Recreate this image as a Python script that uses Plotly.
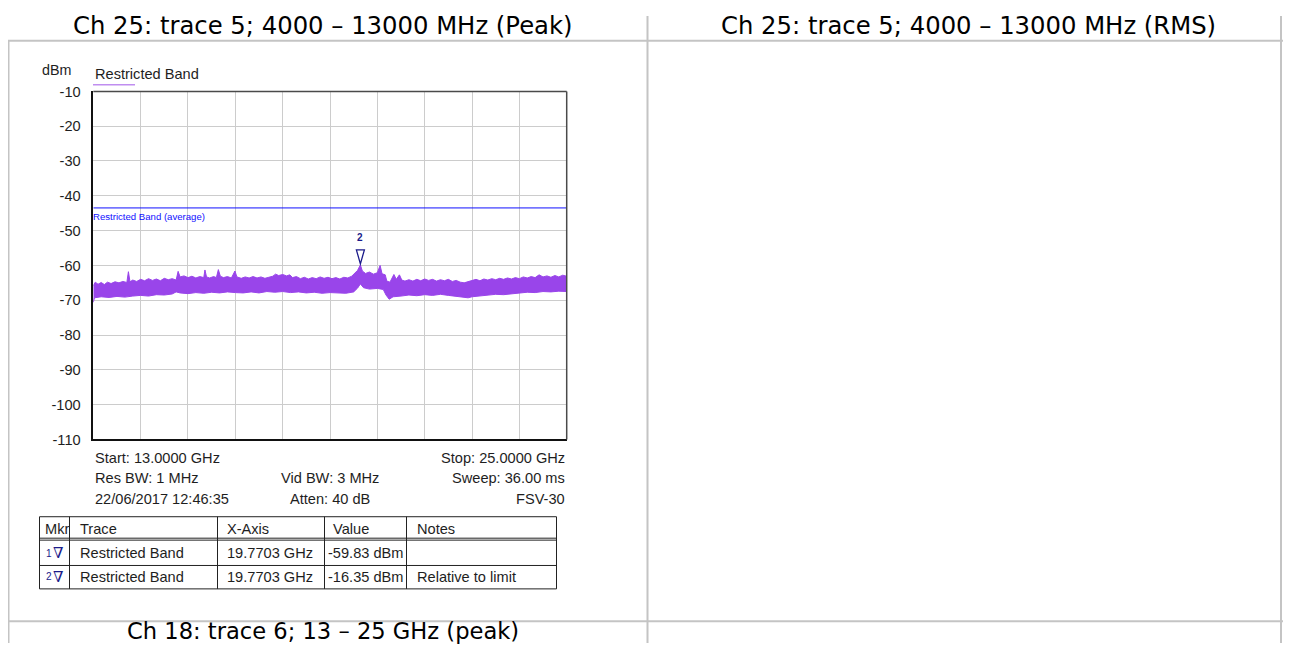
import plotly.graph_objects as go

# ---------------- data ----------------
start_ghz, stop_ghz = 13.0, 25.0
y_ticks = [-10, -20, -30, -40, -50, -60, -70, -80, -90, -100, -110]
limit_dbm = -43.48
limit_label = "Restricted Band (average)"
trace_name = "Restricted Band"

upper_f = [13.00, 13.05, 13.12, 13.2, 13.28, 13.36, 13.45, 13.55, 13.65, 13.75, 13.85, 13.89, 13.93,
           14.0, 14.1, 14.2, 14.3, 14.4, 14.5, 14.6, 14.7, 14.8, 14.9, 15.0, 15.1, 15.15, 15.2, 15.3,
           15.4, 15.5, 15.6, 15.7, 15.8, 15.83, 15.87, 15.95, 16.05, 16.12, 16.17, 16.22, 16.3, 16.4,
           16.5, 16.59, 16.64, 16.75, 16.85, 16.95, 17.05, 17.15, 17.25, 17.35, 17.45, 17.55, 17.62,
           17.7, 17.8, 17.9, 17.98, 18.05, 18.15, 18.25, 18.35, 18.45, 18.55, 18.65, 18.75, 18.85,
           18.95, 19.05, 19.15, 19.25, 19.35, 19.45, 19.55, 19.62, 19.7, 19.7703, 19.82, 19.9, 20.0,
           20.1, 20.2, 20.27, 20.32, 20.4, 20.44, 20.52, 20.58, 20.62, 20.68, 20.76, 20.82, 20.9, 21.0,
           21.1, 21.2, 21.3, 21.4, 21.5, 21.6, 21.7, 21.8, 21.9, 22.0, 22.1, 22.2, 22.3, 22.4, 22.5,
           22.6, 22.7, 22.8, 22.9, 23.0, 23.1, 23.2, 23.3, 23.4, 23.5, 23.6, 23.7, 23.8, 23.9, 24.0,
           24.1, 24.2, 24.3, 24.4, 24.5, 24.6, 24.7, 24.8, 24.9, 25.0]
upper_db = [-65.8, -64.8, -65.4, -64.9, -65.5, -64.8, -65.2, -64.7, -65.0, -64.6, -64.9, -61.8, -64.7,
            -64.2, -64.6, -64.0, -64.4, -63.8, -64.3, -63.9, -64.4, -63.7, -64.1, -63.8, -64.2, -61.7,
            -63.3, -63.0, -63.5, -63.1, -63.6, -63.2, -63.5, -61.3, -63.3, -63.6, -63.2, -63.5, -61.2,
            -63.1, -63.5, -63.2, -63.6, -61.6, -63.3, -63.7, -63.3, -63.6, -63.2, -63.6, -63.3, -63.7,
            -63.4, -63.1, -62.5, -62.9, -62.6, -63.0, -62.7, -63.5, -63.2, -63.8, -63.4, -63.9, -63.5,
            -63.8, -63.3, -63.7, -63.4, -63.8, -63.5, -63.9, -63.4, -63.6, -63.1, -62.4, -61.4, -59.83,
            -61.6, -62.3, -61.9, -62.5, -62.1, -60.0, -62.4, -62.7, -64.5, -64.8, -63.6, -62.6, -64.0,
            -62.7, -64.2, -64.5, -64.1, -64.5, -64.0, -64.4, -63.9, -64.3, -64.0, -64.5, -64.1, -64.4,
            -64.0, -64.6, -64.3, -64.8, -65.0, -64.7, -64.2, -64.0, -64.4, -63.9, -64.2, -63.8, -64.1,
            -63.7, -64.0, -63.6, -63.9, -63.5, -63.8, -63.3, -63.6, -63.2, -63.5, -62.7, -63.3, -63.0,
            -63.4, -62.9, -63.3, -62.8, -63.1]

lower_f = [13.0, 13.03, 13.2, 13.4, 13.6, 13.8, 14.0, 14.2, 14.4, 14.6, 14.8, 15.0, 15.1, 15.2, 15.4,
           15.6, 15.8, 16.0, 16.2, 16.4, 16.6, 16.8, 17.0, 17.2, 17.4, 17.6, 17.8, 18.0, 18.2, 18.4,
           18.6, 18.8, 19.0, 19.2, 19.4, 19.6, 19.7, 19.77, 19.85, 20.0, 20.2, 20.35, 20.42, 20.5,
           20.6, 20.8, 21.0, 21.2, 21.4, 21.6, 21.8, 22.0, 22.2, 22.4, 22.5, 22.6, 22.8, 23.0, 23.2,
           23.4, 23.6, 23.8, 24.0, 24.2, 24.4, 24.6, 24.8, 25.0]
lower_db = [-70.6, -69.3, -69.0, -69.2, -68.9, -69.1, -68.8, -68.6, -68.8, -68.4, -68.5, -68.2, -67.6,
            -67.9, -68.1, -67.8, -68.0, -67.7, -67.9, -67.6, -67.8, -67.9, -67.6, -67.9, -67.5, -67.7,
            -67.5, -67.8, -67.6, -67.9, -67.7, -68.0, -67.8, -67.9, -68.0, -67.6, -66.5, -65.3, -66.4,
            -66.8, -66.6, -66.9, -68.5, -69.7, -69.0, -68.8, -68.5, -68.7, -68.4, -68.6, -68.3, -68.6,
            -68.8, -69.1, -69.3, -69.0, -68.8, -68.5, -68.3, -68.4, -68.1, -67.9, -67.7, -67.8, -67.5,
            -67.6, -67.4, -67.5]

marker_ids = ["1", "2"]
marker_traces = ["Restricted Band", "Restricted Band"]
marker_x = ["19.7703 GHz", "19.7703 GHz"]
marker_vals = ["-59.83 dBm", "-16.35 dBm"]
marker_notes = ["", "Relative to limit"]
marker_freq = 19.7703
marker_dbm = -59.83

info_left = ["Start: 13.0000 GHz", "Res BW: 1 MHz", "22/06/2017 12:46:35"]
info_mid = ["", "Vid BW: 3 MHz", "Atten: 40 dB"]
info_right = ["Stop: 25.0000 GHz", "Sweep: 36.00 ms", "FSV-30"]
table_headers = ["Mkr", "Trace", "X-Axis", "Value", "Notes"]

cell_titles = ["Ch 25: trace 5; 4000 – 13000 MHz (Peak)",
               "Ch 25: trace 5; 4000 – 13000 MHz (RMS)",
               "Ch 18: trace 6; 13 – 25 GHz (peak)"]

# ---------------- layout helpers ----------------
# the figure sits inside the page body (8 px margin): map page pixels to figure paper
OFF = 8
W, H = 1291 - 2 * OFF, 659 - 2 * OFF
def fx(x):
    return (x - OFF) / W
def fy(y):
    return 1 - (y - OFF) / H

PURPLE = "#9945ea"
BLUE = "#1010ff"
NAVY = "#1b1b8a"
GRIDC = "#cccccc"
DOCLINE = "#c4c4c4"
SANS = "Liberation Sans, Arial, sans-serif"
HEAD = "DejaVu Sans, Verdana, sans-serif"
TXT = "#1e1e1e"
FS = 14.6

X0, X1 = 93.3, 566.7
Y0, Y1 = 85.3, 442.3

fig = go.Figure()
fig.add_trace(go.Scatter(x=upper_f, y=upper_db, mode="lines",
                         line=dict(color=PURPLE, width=1), hoverinfo="skip", showlegend=False))
fig.add_trace(go.Scatter(x=lower_f, y=lower_db, mode="lines", fill="tonexty",
                         fillcolor=PURPLE, line=dict(color=PURPLE, width=1),
                         hoverinfo="skip", showlegend=False))
fig.add_trace(go.Scatter(x=[start_ghz, stop_ghz], y=[limit_dbm, limit_dbm], mode="lines",
                         line=dict(color=BLUE, width=1), hoverinfo="skip", showlegend=False))

shapes = []
annotations = []

# triangle marker (pixel-sized, anchored at the marker point)
shapes.append(dict(type="path", xref="x", yref="y", xsizemode="pixel", ysizemode="pixel",
                   xanchor=marker_freq, yanchor=marker_dbm,
                   path="M-4,15 L4,15 L0,1 Z", line=dict(color=NAVY, width=1.3),
                   fillcolor="rgba(0,0,0,0)"))
annotations.append(dict(x=marker_freq, y=marker_dbm, xref="x", yref="y", text="<b>2</b>",
                        showarrow=False, yshift=27, font=dict(family=SANS, size=10, color=NAVY)))

# plot frame top/right
shapes.append(dict(type="line", xref="x domain", yref="y domain", x0=0, x1=1, y0=1, y1=1,
                   line=dict(color="#4a4a4a", width=1.5)))
shapes.append(dict(type="line", xref="x domain", yref="y domain", x0=1, x1=1, y0=0, y1=1,
                   line=dict(color="#4a4a4a", width=1.5)))

# legend
annotations.append(dict(x=fx(93), y=fy(67), xref="paper", yref="paper", xanchor="left",
                        yanchor="middle", text=trace_name, showarrow=False,
                        font=dict(family=SANS, size=FS, color=TXT)))
shapes.append(dict(type="line", xref="paper", yref="paper", x0=fx(93), x1=fx(135),
                   y0=fy(78.5), y1=fy(78.5), line=dict(color="#c08ef0", width=1.5)))
annotations.append(dict(x=fx(40), y=fy(63), xref="paper", yref="paper", xanchor="left",
                        yanchor="middle", text="dBm", showarrow=False,
                        font=dict(family=SANS, size=14.3, color=TXT)))
# limit label
annotations.append(dict(x=start_ghz, y=limit_dbm, xref="x", yref="y", xanchor="left",
                        yanchor="top", text=limit_label, showarrow=False, yshift=-1, xshift=-2,
                        font=dict(family=SANS, size=9.6, color=BLUE)))

# info lines
for i, (l, m, r) in enumerate(zip(info_left, info_mid, info_right)):
    yy = fy(461 + 21 * i)
    annotations.append(dict(x=fx(93), y=yy, xref="paper", yref="paper", xanchor="left",
                            yanchor="middle", text=l, showarrow=False,
                            font=dict(family=SANS, size=FS, color=TXT)))
    if m:
        annotations.append(dict(x=fx(330), y=yy, xref="paper", yref="paper", xanchor="center",
                                yanchor="middle", text=m, showarrow=False,
                                font=dict(family=SANS, size=FS, color=TXT)))
    annotations.append(dict(x=fx(567), y=yy, xref="paper", yref="paper", xanchor="right",
                            yanchor="middle", text=r, showarrow=False,
                            font=dict(family=SANS, size=FS, color=TXT)))

# marker table
col_lines = [39.5, 69.5, 217.5, 324.5, 406.5, 556.5]
row_top, row_h1, row_h2, row_mid, row_bot = 521.5, 543.5, 545.5, 571.5, 595.5
for xl in col_lines:
    shapes.append(dict(type="line", xref="paper", yref="paper", x0=fx(xl), x1=fx(xl),
                       y0=fy(row_top), y1=fy(row_bot), line=dict(color="#222", width=1)))
for yl in [row_top, row_h1, row_h2, row_mid, row_bot]:
    shapes.append(dict(type="line", xref="paper", yref="paper", x0=fx(col_lines[0]),
                       x1=fx(col_lines[-1]), y0=fy(yl), y1=fy(yl),
                       line=dict(color="#222", width=1)))
text_x = [43, 77.5, 225, 331, 415]
for txt, xx in zip(table_headers, text_x):
    annotations.append(dict(x=fx(xx), y=fy(534), xref="paper", yref="paper", xanchor="left",
                            yanchor="middle", text=txt, showarrow=False,
                            font=dict(family=SANS, size=FS, color=TXT)))
row_y = [559, 583]
for i in range(len(marker_ids)):
    yy = fy(row_y[i])
    annotations.append(dict(x=fx(43.5), y=yy, xref="paper", yref="paper", xanchor="left",
                            yanchor="middle", text=marker_ids[i], showarrow=False,
                            font=dict(family=SANS, size=10, color=NAVY)))
    annotations.append(dict(x=fx(51), y=yy, xref="paper", yref="paper", xanchor="left",
                            yanchor="middle", text="∇", showarrow=False,
                            font=dict(family="Liberation Serif, DejaVu Serif", size=15, color=NAVY)))
    vals = [marker_traces[i], marker_x[i], marker_vals[i], marker_notes[i]]
    xs = [77.5, 225, 326, 415]
    for v, xx in zip(vals, xs):
        if v:
            annotations.append(dict(x=fx(xx), y=yy, xref="paper", yref="paper", xanchor="left",
                                    yanchor="middle", text=v, showarrow=False,
                                    font=dict(family=SANS, size=FS, color=TXT)))

# document table lines
for yl in [33.5, 628.8]:
    shapes.append(dict(type="line", xref="paper", yref="paper", x0=0, x1=1,
                       y0=fy(yl), y1=fy(yl), line=dict(color=DOCLINE, width=2)))
shapes.append(dict(type="line", xref="paper", yref="paper", x0=fx(647.5), x1=fx(647.5),
                   y0=0, y1=1, line=dict(color=DOCLINE, width=2)))
shapes.append(dict(type="line", xref="paper", yref="paper", x0=fx(8.5), x1=fx(8.5),
                   y0=0, y1=fy(33.5), line=dict(color=DOCLINE, width=2)))
shapes.append(dict(type="line", xref="paper", yref="paper", x0=fx(1281), x1=fx(1281),
                   y0=0, y1=1, line=dict(color=DOCLINE, width=2)))
title_y = [17.5, 17.5, 639]
title_fs = [24.3, 24.3, 22.6]
for txt, cx, cy, fs in zip(cell_titles, [323, 968, 323], title_y, title_fs):
    annotations.append(dict(x=fx(cx), y=fy(cy), xref="paper", yref="paper", xanchor="center",
                            yanchor="middle", text=txt, showarrow=False,
                            font=dict(family=HEAD, size=fs, color="#000")))

fig.update_layout(
    width=W, height=H, autosize=False,
    margin=dict(l=0, r=0, t=0, b=0),
    paper_bgcolor="white", plot_bgcolor="white",
    shapes=shapes, annotations=annotations, showlegend=False,
    xaxis=dict(domain=[fx(X0), fx(X1)], range=[start_ghz, stop_ghz], tick0=start_ghz, dtick=1.2,
               showticklabels=False, ticks="", showgrid=True, gridcolor=GRIDC, gridwidth=1,
               zeroline=False, showline=True, linecolor="#111", linewidth=1.5, fixedrange=True),
    yaxis=dict(domain=[fy(Y1), fy(Y0)], range=[-110, -10], tickvals=y_ticks,
               ticktext=[str(v) for v in y_ticks], showgrid=True, gridcolor=GRIDC, gridwidth=1,
               zeroline=False, showline=True, linecolor="#111", linewidth=1.5, ticks="",
               ticklabelstandoff=8, tickfont=dict(family=SANS, size=FS, color=TXT),
               fixedrange=True),
)

fig.write_html("out.html", config={"displayModeBar": False})
